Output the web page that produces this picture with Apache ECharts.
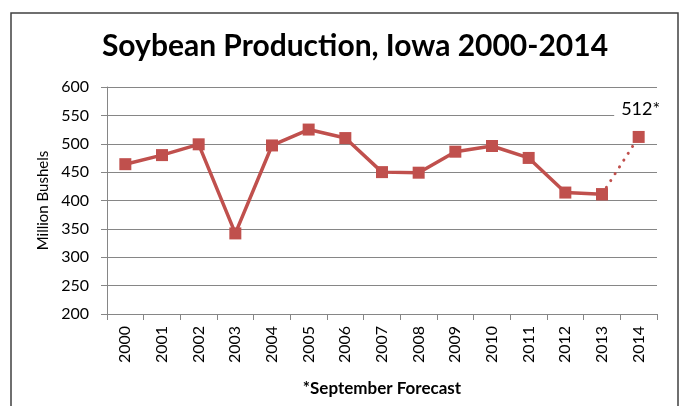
<!DOCTYPE html>
<html><head><meta charset="utf-8">
<script src="https://cdn.jsdelivr.net/npm/echarts@6/dist/echarts.min.js"></script>
<style>html,body{margin:0;padding:0;background:#fff}#c{width:681px;height:406px}</style>
</head><body><div id="c"></div>
<script>
const years = ['2000','2001','2002','2003','2004','2005','2006','2007','2008','2009','2010','2011','2012','2013','2014'];
const production = [464, 480, 499, 342, 497, 525, 510, 450, 449, 486, 496, 475, 414, 411, null];
const forecast = [null, null, null, null, null, null, null, null, null, null, null, null, null, 411, 512];
const forecastLabel = '512*';
const yTicks = {min: 200, max: 600, interval: 50};
const FONT = 'Lato, "Open Sans", sans-serif';
const RED = '#C0504D';

const lastIdx = years.length - 1;
const forecastData = forecast.map((v, i) => i === lastIdx ? {
  value: v,
  label: {
    show: true, position: 'top', distance: 12, formatter: forecastLabel,
    fontFamily: FONT, fontSize: 18, color: '#000',
    backgroundColor: '#fff', padding: [1, 3, 1, 7]
  }
} : v);

const chart = echarts.init(document.getElementById('c'), null, {renderer: 'canvas'});
chart.setOption({
  animation: false,
  backgroundColor: '#fff',
  title: {
    text: 'Soybean Production, Iowa 2000-2014',
    left: 350, textAlign: 'center', top: 26,
    textStyle: {fontFamily: FONT, fontWeight: 'bold', fontSize: 30, color: '#000'}
  },
  grid: {left: 107, right: 24, top: 87, bottom: 92, containLabel: false},
  xAxis: {
    type: 'category', data: years, boundaryGap: true,
    name: '*September Forecast', nameLocation: 'middle', nameGap: 66,
    nameTextStyle: {fontFamily: FONT, fontWeight: 'bold', fontSize: 17, color: '#000'},
    axisLine: {lineStyle: {color: '#868686', width: 1}},
    axisTick: {show: true, alignWithLabel: false, length: 6, lineStyle: {color: '#868686'}},
    axisLabel: {rotate: 90, fontFamily: FONT, fontSize: 16, color: '#000', margin: 12}
  },
  yAxis: {
    type: 'value', min: yTicks.min, max: yTicks.max, interval: yTicks.interval,
    name: 'Million Bushels', nameLocation: 'middle', nameGap: 51, nameRotate: 90,
    nameTextStyle: {fontFamily: FONT, fontSize: 15, color: '#000'},
    axisLine: {show: true, lineStyle: {color: '#868686', width: 1}},
    axisTick: {show: true, length: 6, lineStyle: {color: '#868686'}},
    axisLabel: {fontFamily: FONT, fontSize: 16, color: '#000', margin: 18},
    splitLine: {lineStyle: {color: '#868686', width: 1}}
  },
  series: [
    {
      type: 'line', data: production, symbol: 'rect', symbolSize: 12,
      itemStyle: {color: RED}, lineStyle: {color: RED, width: 3.5}, z: 3
    },
    {
      type: 'line', data: forecastData, symbol: 'rect', symbolSize: 12,
      itemStyle: {color: RED},
      lineStyle: {color: RED, width: 3, type: [0.1, 8], cap: 'round'},
      z: 2
    }
  ],
  graphic: [{
    type: 'rect', shape: {x: 11, y: 13, width: 667, height: 400},
    style: {fill: null, stroke: '#404040', lineWidth: 1.5}, silent: true
  }]
});
</script></body></html>
